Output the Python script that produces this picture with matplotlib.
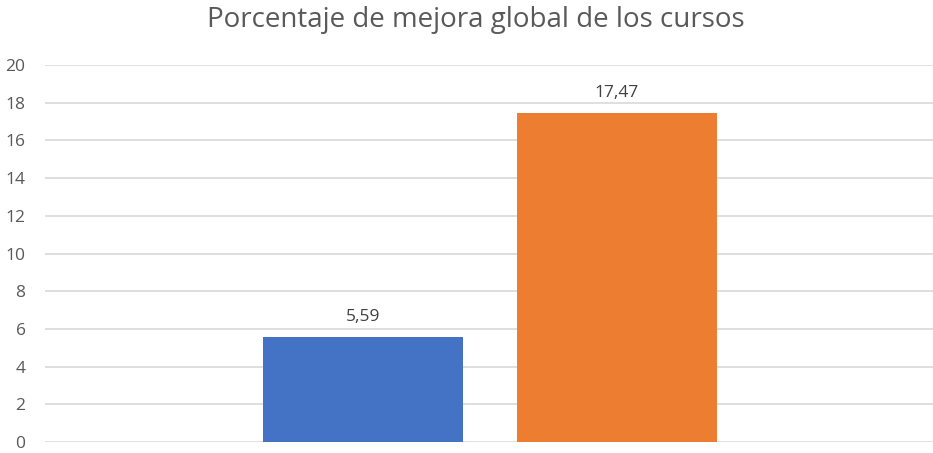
import matplotlib.pyplot as plt

# data
series_names = ['Serie 1', 'Serie 2']
values = [5.59, 17.47]
labels = ['5,59', '17,47']
colors = ['#4472C4', '#ED7D31']

plt.rcParams['font.family'] = ['Open Sans', 'DejaVu Sans']

fig = plt.figure(figsize=(9.33, 4.53), dpi=100)
ax = fig.add_axes([45 / 933, 11 / 453, 890 / 933, 377 / 453])

width = 200 / 890
offsets = [-127 / 890, 127 / 890]
for off, val, lab, col in zip(offsets, values, labels, colors):
    ax.bar(off, val, width=width, color=col, zorder=3, label=None)
    ax.text(off, val + 0.6, lab, ha='center', va='bottom',
            fontsize=12.5, color='#404040')

ax.set_xlim(-0.5, 0.5)
ax.set_ylim(0, 20)
ax.set_yticks(range(0, 21, 2))
ax.set_xticks([])
ax.grid(axis='y', color='#D9D9D9', linewidth=1.2, zorder=0)
for s in ax.spines.values():
    s.set_visible(False)
ax.tick_params(axis='y', length=0, pad=14, labelsize=12.5, labelcolor='#595959')

fig.text(476 / 933, 1 - 20 / 453, 'Porcentaje de mejora global de los cursos',
         ha='center', va='center', fontsize=20, color='#595959')

fig.savefig('out.png', dpi=100)
